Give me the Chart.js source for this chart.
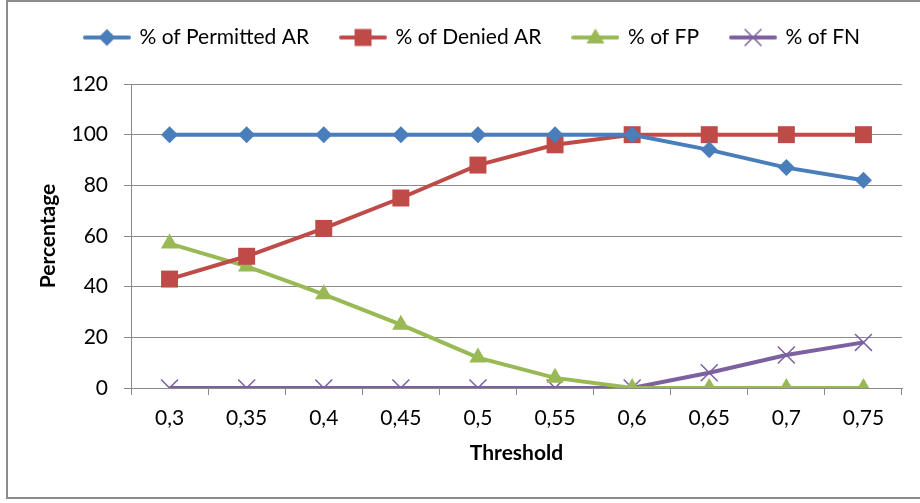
<!DOCTYPE html>
<html>
<head>
<meta charset="utf-8">
<script src="https://cdn.jsdelivr.net/npm/chart.js@4.4.0/dist/chart.umd.min.js"></script>
<style>
  html, body { margin: 0; padding: 0; background: #fff; }
  #wrap { position: relative; width: 920px; height: 503px; }
  #frame { position: absolute; left: 6px; top: 0; width: 920px; height: 495px; border: 2px solid #8c8c8c; box-sizing: content-box; pointer-events: none; }
</style>
</head>
<body>
<div id="wrap">
  <canvas id="myChart" width="920" height="503"></canvas>
  <div id="frame"></div>
</div>
<script>
// datos
const thresholds = ['0,3', '0,35', '0,4', '0,45', '0,5', '0,55', '0,6', '0,65', '0,7', '0,75'];
const permitted = [100, 100, 100, 100, 100, 100, 100, 94, 87, 82];
const denied = [43, 52, 63, 75, 88, 96, 100, 100, 100, 100];
const falsePos = [57, 48, 37, 25, 12, 4, 0, 0, 0, 0];
const falseNeg = [0, 0, 0, 0, 0, 0, 0, 6, 13, 18];
const yTicks = [0, 20, 40, 60, 80, 100, 120];

const blue = '#4a7ebb';
const red = '#be4b48';
const green = '#98b954';
const purple = '#7d60a0';
const gridColor = '#8a8a8a';
const fontName = 'Lato, "Open Sans", sans-serif';
const fontSize = 21;

// dibuja el marcador a mano (para la leyenda)
function drawMarker(ctx, style, x, y, color) {
    ctx.fillStyle = color;
    ctx.strokeStyle = color;
    ctx.beginPath();
    if (style === 'rectRot') {
        ctx.moveTo(x, y - 8.5); ctx.lineTo(x + 8.5, y); ctx.lineTo(x, y + 8.5); ctx.lineTo(x - 8.5, y);
        ctx.closePath(); ctx.fill();
    } else if (style === 'rect') {
        ctx.rect(x - 8.5, y - 8.5, 17, 17); ctx.fill();
    } else if (style === 'triangle') {
        ctx.moveTo(x, y - 9); ctx.lineTo(x + 9, y + 6); ctx.lineTo(x - 9, y + 6);
        ctx.closePath(); ctx.fill();
    } else {
        ctx.lineWidth = 1.5;
        ctx.moveTo(x - 8, y - 8); ctx.lineTo(x + 8, y + 8);
        ctx.moveTo(x + 8, y - 8); ctx.lineTo(x - 8, y + 8);
        ctx.stroke();
    }
}

function legendIcon(style, color) {
    const c = document.createElement('canvas');
    c.width = 48; c.height = 20;
    const ctx = c.getContext('2d');
    ctx.strokeStyle = color;
    ctx.lineWidth = 4;
    ctx.lineCap = 'round';
    ctx.beginPath(); ctx.moveTo(2, 10); ctx.lineTo(46, 10); ctx.stroke();
    drawMarker(ctx, style, 24, 10, color);
    return c;
}

const series = [
    { label: '% of Permitted AR', data: permitted, color: blue, style: 'rectRot', radius: 8.5 },
    { label: '% of Denied AR', data: denied, color: red, style: 'rect', radius: 12 },
    { label: '% of FP', data: falsePos, color: green, style: 'triangle', radius: 10 },
    { label: '% of FN', data: falseNeg, color: purple, style: 'crossRot', radius: 12 }
];

// mas espacio bajo la leyenda y corrimiento a la derecha
const legendSpace = {
    id: 'legendSpace',
    beforeInit(chart) {
        const fit = chart.legend.fit;
        chart.legend.fit = function () {
            fit.bind(chart.legend)();
            this.height += 26;
        };
    },
    afterLayout(chart) {
        chart.legend.left += 18;
        chart.legend.right += 18;
    }
};

const cdx = document.getElementById('myChart');
const chartInstance = new Chart(cdx, {
    type: 'line',
    data: {
        labels: thresholds,
        datasets: series.map(s => ({
            label: s.label,
            data: s.data,
            borderColor: s.color,
            backgroundColor: s.color,
            borderWidth: 4,
            pointStyle: s.style,
            pointRadius: s.radius,
            pointBorderWidth: s.style === 'crossRot' ? 1.5 : 0,
            pointBorderColor: s.color,
            pointBackgroundColor: s.color,
            tension: 0
        }))
    },
    options: {
        responsive: false,
        animation: false,
        layout: { padding: { left: 7, right: 18, top: -5, bottom: 6 } },
        scales: {
            x: {
                offset: true,
                grid: { display: true, drawOnChartArea: false, offset: true, color: gridColor, tickLength: 7 },
                border: { color: gridColor, width: 1 },
                ticks: { color: '#000', font: { family: fontName, size: fontSize }, padding: 11, maxRotation: 0 },
                title: { display: true, text: 'Threshold', color: '#000', font: { family: fontName, size: fontSize, weight: 'bold' }, padding: 31 },
                afterFit: s => { s.height = 109; }
            },
            y: {
                min: 0,
                max: 120,
                afterBuildTicks: s => { s.ticks = yTicks.map(v => ({ value: v })); },
                grid: { color: gridColor, tickLength: 7 },
                border: { color: gridColor, width: 1 },
                ticks: { color: '#000', font: { family: fontName, size: fontSize }, padding: 16 },
                title: { display: true, text: 'Percentage', color: '#000', font: { family: fontName, size: fontSize, weight: 'bold' }, padding: 29 },
                afterFit: s => { s.width = 124; }
            }
        },
        plugins: {
            legend: {
                position: 'top',
                labels: {
                    usePointStyle: true,
                    pointStyleWidth: 44,
                    padding: 32,
                    color: '#000',
                    font: { family: fontName, size: fontSize },
                    generateLabels: chart => series.map((s, i) => ({
                        text: s.label,
                        pointStyle: legendIcon(s.style, s.color),
                        fillStyle: s.color,
                        strokeStyle: s.color,
                        lineWidth: 0,
                        hidden: false,
                        datasetIndex: i,
                        fontColor: '#000'
                    }))
                }
            },
            tooltip: { enabled: false }
        }
    },
    plugins: [legendSpace]
});
</script>
</body>
</html>
